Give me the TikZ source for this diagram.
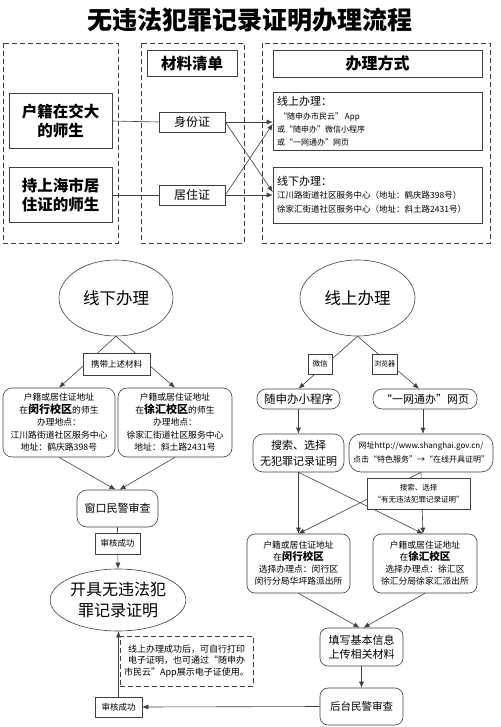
\documentclass[tikz,border=0pt]{standalone}
\usepackage{fontspec}
\setmainfont{Noto Sans CJK SC}
\usetikzlibrary{arrows.meta,shapes.geometric}
\newcommand{\fs}[2]{\fontsize{#1}{#2}\selectfont}
\colorlet{linec}{black!75}
\tikzset{
  conn/.style={draw=linec, line width=0.6pt},
  arr/.style={conn, -{Latex[length=6pt,width=5pt]}},
  box/.style={draw=linec, line width=0.6pt, fill=white, rectangle, align=center, inner sep=0pt},
  rbox/.style={box, rounded corners=#1},
  ell/.style={draw=linec, line width=0.6pt, fill=white, ellipse, inner sep=0pt, align=center},
  lbl/.style={box},
  dashbox/.style={draw=linec, line width=0.7pt, dash pattern=on 5pt off 3pt},
  txt/.style={inner sep=0pt, anchor=base west}
}
\begin{document}
\begin{tikzpicture}[x=1pt,y=-1pt]
\useasboundingbox (0,0) rectangle (500,727);
\fill[white] (0,0) rectangle (500,727);
% title
\node[inner sep=0pt, font=\fs{25}{28}\bfseries] (title) at (250,20) {无违法犯罪记录证明办理流程};
% dashed containers
\draw[dashbox] (3,43) rectangle (118,243);
\draw[dashbox] (141,43) rectangle (244,243);
\draw[dashbox] (262,43) rectangle (490,243);
% top nodes
\node[box, minimum width=103, minimum height=55, font=\fs{15.5}{19}\bfseries] (n1) at (60.5,121) {户籍在交大\\的师生};
\node[box, minimum width=103, minimum height=55, font=\fs{15.5}{19}\bfseries] (n2) at (60.5,195) {持上海市居\\住证的师生};
\node[box, minimum width=90, minimum height=26, font=\fs{15.5}{18}\bfseries] (cl) at (192,63.5) {材料清单};
\node[box, minimum width=66, minimum height=20, font=\fs{12}{14}] (sfz) at (192,122) {身份证};
\node[box, minimum width=66, minimum height=20, font=\fs{12}{14}] (jzz) at (192,195) {居住证};
\node[box, minimum width=209, minimum height=27, font=\fs{16}{18}\bfseries] (fsn) at (377.5,63.5) {办理方式};
\node[box, minimum width=209, minimum height=58] (on) at (377.5,121) {};
\node[txt, font=\fs{11}{13}] (ont) at (277,106) {线上办理：};
\node[txt, font=\fs{8}{10}] (on1) at (279,120) {“随申办市民云” App};
\node[txt, font=\fs{8}{10}] (on2) at (277,133) {或“随申办”微信小程序};
\node[txt, font=\fs{8}{10}] (on3) at (277,146) {或“一网通办”网页};
\node[box, minimum width=209, minimum height=56] (off) at (377.5,195) {};
\node[txt, font=\fs{11}{13}] (offt) at (277,186) {线下办理：};
\node[txt, font=\fs{8.5}{10}] (off1) at (277,199) {江川路街道社区服务中心（地址：鹤庆路398号）};
\node[txt, font=\fs{8.5}{10}] (off2) at (277,213) {徐家汇街道社区服务中心（地址：斜土路2431号）};
% top connectors
\draw[conn] (n1.east) -- (sfz.west);
\draw[conn] (n2.east) -- (jzz.west);
\draw[arr] (sfz.east) -- (sfz.east -| on.west);
\draw[arr] (sfz.east) -- ([yshift=3pt]off.west);
\draw[arr] (jzz.east) -- (jzz.east -| off.west);
\draw[arr] (jzz.east) -- ([yshift=-3pt]on.west);

% ===== bottom left =====
\node[ell, minimum width=114, minimum height=76, font=\fs{16.5}{18}] (e1) at (116,298) {线下办理};
\node[rbox=9pt, minimum width=112, minimum height=69, font=\fs{8.8}{12.5}] (b1) at (59,422.5)
  {户籍或居住证地址\\在{\fs{11}{12.5}\bfseries 闵行校区}的师生\\办理地点：\\江川路街道社区服务中心\\地址：鹤庆路398号};
\node[rbox=9pt, minimum width=114, minimum height=69, font=\fs{8.8}{12.5}] (b2) at (175,422.5)
  {户籍或居住证地址\\在{\fs{11}{12.5}\bfseries 徐汇校区}的师生\\办理地点：\\徐家汇街道社区服务中心\\地址：斜土路2431号};
\node[rbox=10pt, minimum width=81, minimum height=37, font=\fs{11}{13}] (w1) at (117.5,508.5) {窗口民警审查};
\node[ell, minimum width=122, minimum height=62, font=\fs{16}{21}] (e3) at (118,600) {开具无违法犯\\罪记录证明};
\node[dashbox, minimum width=133, minimum height=50, inner sep=0pt, align=center, font=\fs{9}{11.5}] (note) at (186.5,661)
  {线上办理成功后，可自行打印\\电子证明，也可通过“随申办\\市民云”App展示电子证使用。};
\draw[arr] (e1.south) -- (b1.north);
\draw[arr] (e1.south) -- (b2.north);
\draw[arr] (b1.south) -- ([xshift=-2pt]w1.north);
\draw[arr] (b2.south) -- ([xshift=2pt]w1.north);
\draw[arr] (w1.south) -- (e3.north);
\node[lbl, minimum width=67, minimum height=22, font=\fs{8.5}{10}] (l1) at (116.5,364) {携带上述材料};
\node[lbl, minimum width=45, minimum height=21, font=\fs{8.5}{10}] (l2) at (117.5,543.5) {审核成功};
\node[lbl, minimum width=47, minimum height=20, font=\fs{8.5}{10}] (l3) at (118.5,707) {审核成功};
\draw[arr] (l3.north) -- (l3.north |- e3.south);

% ===== bottom right =====
\node[ell, minimum width=115, minimum height=76, font=\fs{16.5}{18}] (e2) at (357.5,298) {线上办理};
\node[rbox=9pt, minimum width=83, minimum height=20, font=\fs{11.5}{13}] (r1) at (298.5,399) {随申办小程序};
\node[rbox=9pt, minimum width=104, minimum height=20, font=\fs{11}{13}] (r2) at (425,399) {“一网通办”网页};
\node[rbox=10pt, minimum width=91, minimum height=38, font=\fs{11}{16}] (r3) at (298.5,453) {搜索、选择\\无犯罪记录证明};
\node[rbox=12pt, minimum width=144, minimum height=38, font=\fs{8}{14}] (r4) at (421,453) {网址http://www.shanghai.gov.cn/\\点击“特色服务”→“在线开具证明”};
\node[rbox=8pt, minimum width=103, minimum height=59, font=\fs{8.8}{12}] (r5) at (298.5,563.5)
  {户籍或居住证地址\\在{\fs{10.5}{12}\bfseries 闵行校区}\\选择办理点：闵行区\\闵行分局华坪路派出所};
\node[rbox=8pt, minimum width=104, minimum height=59, font=\fs{8.8}{12}] (r6) at (425,563.5)
  {户籍或居住证地址\\在{\fs{10.5}{12}\bfseries 徐汇校区}\\选择办理点：徐汇区\\徐汇分局徐家汇派出所};
\node[rbox=8pt, minimum width=83, minimum height=38, font=\fs{11}{14}] (r7) at (361.5,647) {填写基本信息\\上传相关材料};
\node[rbox=8pt, minimum width=83, minimum height=37, font=\fs{10.5}{13}] (r8) at (361.5,706.5) {后台民警审查};
\draw[arr] (e2.south) -- (r1.north);
\draw[arr] (e2.south) -- ([xshift=-6pt]r2.north);
\draw[arr] (r1.south) -- (r3.north);
\draw[arr] ([xshift=-2pt]r2.south) -- ([xshift=-2pt]r2.south |- r4.north);
\draw[arr] (r3.south) -- (r5.north);
\draw[arr] (r3.south) -- ([xshift=-2pt]r6.north);
\draw[arr] (r4.south) -- (r5.north);
\draw[arr] (r4.south) -- ([xshift=-2pt]r6.north);
\draw[arr] (r5.south) -- ([xshift=-2pt]r7.north);
\draw[arr] (r6.south) -- ([xshift=2pt]r7.north);
\draw[arr] (r7.south) -- (r8.north);
\draw[arr] (r8.west) -- (l3.east);
\node[lbl, minimum width=24, minimum height=20, font=\fs{7.5}{9}] (lw) at (320,364) {微信};
\node[lbl, minimum width=25, minimum height=20, font=\fs{7}{9}] (lb) at (384.5,364) {浏览器};
\node[lbl, minimum width=103, minimum height=31, font=\fs{7.5}{12}] (l4) at (418.5,493.5) {搜索、选择\\“有无违法犯罪记录证明”};
\end{tikzpicture}
\end{document}
